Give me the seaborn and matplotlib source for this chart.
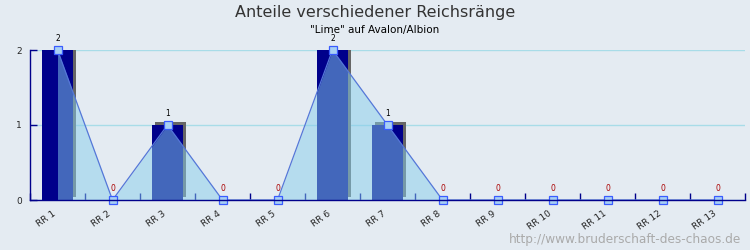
import matplotlib
matplotlib.use("Agg")
import matplotlib.pyplot as plt
import matplotlib.transforms as mtransforms
import numpy as np
import pandas as pd
import seaborn as sns

# Rank categories and the number of members in each
ranks = ["RR 1", "RR 2", "RR 3", "RR 4", "RR 5", "RR 6", "RR 7",
         "RR 8", "RR 9", "RR 10", "RR 11", "RR 12", "RR 13"]
counts = [2, 0, 1, 0, 0, 2, 1, 0, 0, 0, 0, 0, 0]
y_ticks = [0, 1, 2]

title = "Anteile verschiedener Reichsränge"
subtitle = '"Lime" auf Avalon/Albion'
credit = "http://www.bruderschaft-des-chaos.de"

BG = "#E4EBF2"
NAVY = "#00008B"
SHADOW = "#666666"
AREA = "#87CEEB"
LINE = "#5577D8"
GRID = "#A8DCE8"

sns.set_theme(style="white")
plt.rcParams["font.family"] = ["DejaVu Sans"]

df = pd.DataFrame({"rank": ranks, "count": counts})
df["pos"] = np.arange(len(ranks))

fig = plt.figure(figsize=(7.5, 2.5), dpi=100, facecolor=BG)
ax = fig.add_axes([30 / 750, 50 / 250, 715 / 750, 150 / 250])
ax.set_facecolor(BG)

# Extruded look: a grey copy of each bar shifted up and to the right
sns.barplot(data=df, x="rank", y="count", color=SHADOW, saturation=1,
            width=0.55, linewidth=0, edgecolor="none", ax=ax, zorder=2)
shifted = mtransforms.offset_copy(ax.transData, fig=fig, x=3, y=3,
                                  units="dots")
for p in list(ax.patches):
    p.set_transform(shifted)
sns.barplot(data=df, x="rank", y="count", color=NAVY, saturation=1,
            width=0.55, linewidth=0, edgecolor="none", ax=ax, zorder=2.5)

# Translucent area over the bars
ax.fill_between(df["pos"], df["count"], 0, color=AREA, alpha=0.5,
                linewidth=0, zorder=3)
sns.lineplot(data=df, x="pos", y="count", color=LINE, linewidth=0.9,
             marker="s", markersize=6, markerfacecolor="#A8D0F4",
             markeredgecolor="#3A5CFF", markeredgewidth=0.9,
             ax=ax, zorder=4, clip_on=False)

# Value labels above each point
for x, v in zip(df["pos"], df["count"]):
    ax.annotate(str(v), (x, v), xytext=(0, 6.5), textcoords="offset points",
                ha="center", va="baseline", fontsize=5.5,
                color="#AA0000" if v == 0 else "black", zorder=5)

ax.set_xlim(-0.5, len(ranks) - 0.5)
ax.set_ylim(0, 2)
ax.set_xlabel("")
ax.set_ylabel("")

# Ticks at the category boundaries, labels at the centres
ax.set_xticks(np.arange(len(ranks) + 1) - 0.5)
ax.set_xticklabels([])
ax.set_xticks(df["pos"], minor=True)
ax.set_xticklabels(ranks, minor=True, rotation=35, ha="right",
                   rotation_mode="anchor", fontsize=6.5)
ax.tick_params(axis="x", which="major", direction="in", length=5,
               width=1, color=NAVY, bottom=True)
ax.tick_params(axis="x", which="minor", length=0, pad=6.5)
nudge = mtransforms.ScaledTranslation(-5 / 100, 0, fig.dpi_scale_trans)
for lbl in ax.get_xticklabels(minor=True):
    lbl.set_transform(lbl.get_transform() + nudge)

ax.set_yticks(y_ticks)
ax.set_yticklabels([str(t) for t in y_ticks], fontsize=6.5)
ax.tick_params(axis="y", direction="in", length=5, width=1, color=NAVY,
               left=True, pad=6)

ax.yaxis.grid(True, color=GRID, linewidth=1)
ax.set_axisbelow(True)

for side in ("top", "right"):
    ax.spines[side].set_visible(False)
for side in ("left", "bottom"):
    ax.spines[side].set_color(NAVY)
    ax.spines[side].set_linewidth(1)
    ax.spines[side].set_zorder(4.5)

fig.text(0.5, 1 - 12 / 250, title, ha="center", va="center",
         fontsize=11.5, color="#333333")
fig.text(0.5, 1 - 30 / 250, subtitle, ha="center", va="center",
         fontsize=7.5, color="black")
fig.text(741 / 750, 1 - 240 / 250, credit, ha="right", va="center",
         fontsize=8.75, color="#AAAAAA")

fig.savefig("out.png", dpi=100, facecolor=BG)
